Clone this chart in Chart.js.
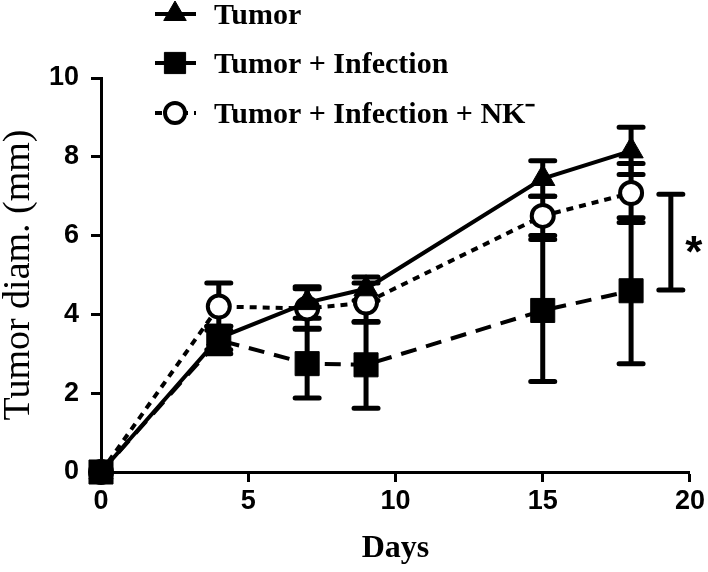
<!DOCTYPE html>
<html><head><meta charset="utf-8">
<script src="https://cdn.jsdelivr.net/npm/chart.js@4.4.1/dist/chart.umd.min.js"></script>
<style>html,body{margin:0;padding:0;background:#fff;} #wrap{width:708px;height:572px;}</style>
</head><body><div id="wrap"><canvas id="c" width="708" height="572"></canvas></div>
<script>
const days = [0, 4, 7, 9, 15, 18];
const seriesNames = ['Tumor', 'Tumor + Infection', 'Tumor + Infection + NK\u207B'];
const tumor = [0, 3.4, 4.3, 4.65, 7.45, 8.15];
const tumorErr = [0, 0.3, 0.4, 0.3, 0.45, 0.6];
const tumorInf = [0, 3.35, 2.75, 2.72, 4.1, 4.6];
const tumorInfErr = [0, 0.35, 0.87, 1.1, 1.8, 1.85];
const tumorInfNK = [0, 4.2, 4.15, 4.3, 6.5, 7.08];
const tumorInfNKErr = [0, 0.6, 0.5, 0.5, 0.5, 0.75];
const xTicks = [0, 5, 10, 15, 20];
const yTicks = [0, 2, 4, 6, 8, 10];
const sigX = 19.35, sigLow = 4.62, sigHigh = 7.05, sigLabel = '*';

const seriesVals = [tumor, tumorInf, tumorInfNK];
const seriesErrs = [tumorErr, tumorInfErr, tumorInfNKErr];
const pts = vals => days.map((d, i) => ({x: d, y: vals[i]}));

const styles = [
  {pointStyle: 'triangle', pointRadius: 14, fill: '#000', bw: 1, dash: []},
  {pointStyle: 'rect', pointRadius: 17, fill: '#000', bw: 1, dash: [16, 10]},
  {pointStyle: 'circle', pointRadius: 11, fill: '#fff', bw: 4, dash: [7, 6]}
];

const datasets = seriesVals.map((v, i) => ({
  label: seriesNames[i],
  data: pts(v),
  borderColor: '#000',
  backgroundColor: styles[i].fill,
  borderWidth: 4,
  borderDash: styles[i].dash,
  pointStyle: styles[i].pointStyle,
  pointRadius: styles[i].pointRadius,
  pointHoverRadius: styles[i].pointRadius,
  pointBackgroundColor: styles[i].fill,
  pointBorderColor: '#000',
  pointBorderWidth: styles[i].bw,
  tension: 0,
  clip: false
}));

const errPlugin = {
  id: 'errbars',
  beforeDatasetsDraw(chart) {
    const ctx = chart.ctx, xs = chart.scales.x, ys = chart.scales.y;
    ctx.save();
    ctx.strokeStyle = '#000';
    ctx.lineWidth = 5;
    ctx.lineCap = 'round';
    ctx.setLineDash([]);
    seriesErrs.forEach((e, di) => {
      const vals = seriesVals[di];
      days.forEach((d, i) => {
        if (!e[i]) return;
        const x = xs.getPixelForValue(d);
        const y1 = ys.getPixelForValue(vals[i] + e[i]);
        const y2 = ys.getPixelForValue(vals[i] - e[i]);
        ctx.beginPath();
        ctx.moveTo(x, y1); ctx.lineTo(x, y2);
        ctx.moveTo(x - 12, y1); ctx.lineTo(x + 12, y1);
        ctx.moveTo(x - 12, y2); ctx.lineTo(x + 12, y2);
        ctx.stroke();
      });
    });
    // significance bracket
    const bx = xs.getPixelForValue(sigX);
    const by1 = ys.getPixelForValue(sigHigh), by2 = ys.getPixelForValue(sigLow);
    ctx.beginPath();
    ctx.moveTo(bx, by1); ctx.lineTo(bx, by2);
    ctx.moveTo(bx - 12, by1); ctx.lineTo(bx + 12, by1);
    ctx.moveTo(bx - 12, by2); ctx.lineTo(bx + 12, by2);
    ctx.stroke();
    ctx.fillStyle = '#000';
    ctx.font = 'bold 44px "Liberation Sans"';
    ctx.textAlign = 'center';
    ctx.textBaseline = 'alphabetic';
    ctx.fillText(sigLabel, bx + 23, (by1 + by2) / 2 + 25);
    ctx.restore();
  },
  afterDraw(chart) {
    const ctx = chart.ctx;
    ctx.save();
    const rowsY = [14, 63, 113];
    seriesNames.forEach((name, i) => {
      const y = rowsY[i];
      ctx.strokeStyle = '#000';
      ctx.lineWidth = 4;
      ctx.setLineDash(styles[i].dash);
      ctx.beginPath();
      ctx.moveTo(155, y); ctx.lineTo(196, y);
      ctx.stroke();
      ctx.setLineDash([]);
      ctx.fillStyle = styles[i].fill;
      ctx.lineWidth = styles[i].bw;
      Chart.helpers.drawPoint(ctx, {pointStyle: styles[i].pointStyle, radius: i === 1 ? 15 : (i === 0 ? 13 : 10), rotation: 0, borderWidth: styles[i].bw}, 175, y);
      ctx.fillStyle = '#000';
      ctx.font = 'bold 30px "Liberation Serif"';
      ctx.textAlign = 'left';
      ctx.textBaseline = 'alphabetic';
      ctx.fillText(name, 214, y + 10);
    });
    ctx.restore();
  }
};

new Chart(document.getElementById('c'), {
  type: 'line',
  data: {datasets},
  options: {
    responsive: false,
    animation: false,
    devicePixelRatio: 1,
    layout: {padding: {top: 78, right: 15, left: 0, bottom: 0}},
    plugins: {legend: {display: false}, tooltip: {enabled: false}},
    scales: {
      x: {
        type: 'linear', min: 0, max: 20,
        afterBuildTicks: s => { s.ticks = xTicks.map(v => ({value: v})); },
        ticks: {font: {family: 'Liberation Sans', size: 27, weight: 'bold'}, color: '#000', padding: 3, maxRotation: 0, autoSkip: false},
        grid: {display: true, drawOnChartArea: false, drawTicks: true, tickLength: 10, tickWidth: 3, tickColor: '#000'},
        border: {display: true, color: '#000', width: 3},
        title: {display: true, text: 'Days', color: '#000', font: {family: 'Liberation Serif', size: 32, weight: 'bold', lineHeight: 1}, padding: {top: 0, bottom: 7}},
        afterFit: s => { s.height = 100; }
      },
      y: {
        type: 'linear', min: 0, max: 10,
        afterBuildTicks: s => { s.ticks = yTicks.map(v => ({value: v})); },
        ticks: {font: {family: 'Liberation Sans', size: 27, weight: 'bold'}, color: '#000', padding: 12, autoSkip: false},
        grid: {display: true, drawOnChartArea: false, drawTicks: true, tickLength: 10, tickWidth: 3, tickColor: '#000'},
        border: {display: true, color: '#000', width: 3},
        title: {display: true, text: 'Tumor diam. (mm)', color: '#000', font: {family: 'Liberation Serif', size: 38, weight: 'normal', lineHeight: 1}, padding: {top: 0, bottom: 0}},
        afterFit: s => { s.width = 101; }
      }
    }
  },
  plugins: [errPlugin]
});
</script>
</body></html>
